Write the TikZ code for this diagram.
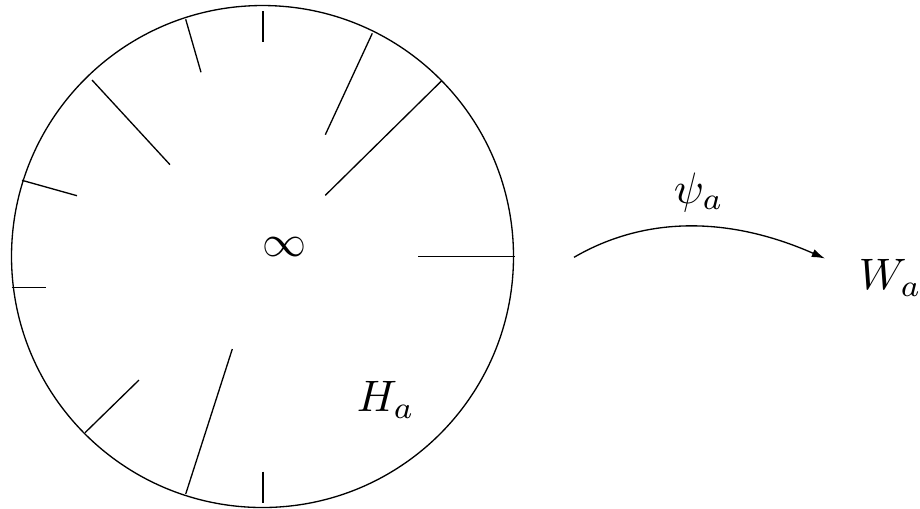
\documentclass[tikz,border=0pt]{standalone}
\usetikzlibrary{arrows.meta}
\tikzset{
  slit/.style={line width=0.3pt},
  lbl/.style={inner sep=0pt, font=\normalsize},
  maparrow/.style={line width=0.3pt, -{Latex[length=3pt,width=1.9pt]}}
}
\begin{document}
\begin{tikzpicture}[x=0.227pt,y=-0.227pt]
\useasboundingbox (0,0) rectangle (920,508);
\node[draw, circle, line width=0.3pt, minimum size=113.95pt, inner sep=0pt] (disk) at (262.5,256.5) {};
% slits
\draw[slit] (263,11) -- (263,42);
\draw[slit] (185.7,19.3) -- (201,72.3);
\draw[slit] (372.3,33.3) -- (325.3,134.7);
\draw[slit] (441.7,80.7) -- (325.3,195.3);
\draw[slit] (92,80) -- (170,164.7);
\draw[slit] (22,180.3) -- (77,195.7);
\draw[slit] (514.5,256.7) -- (418.3,256.7);
\draw[slit] (11.5,287.7) -- (46,287.7);
\draw[slit] (85,432.7) -- (139,380);
\draw[slit] (185.7,494) -- (232.3,349);
\draw[slit] (263,471.7) -- (263,502.7);
% labels
\node[lbl] (inf) at (285,247) {$\infty$};
\node[lbl, anchor=base west] (H) at (356,411.5) {$H_a$};
\node[lbl, anchor=base west] (psi) at (673,203) {$\psi_a$};
\node[lbl, anchor=base west] (W) at (858,289.5) {$W_a$};
% map arrow
\coordinate (s) at (574,257.3);
\coordinate (e) at (825,258.5);
\draw[maparrow] (s) .. controls (645.3,215.8) and (729,216.2) .. (e);
\end{tikzpicture}
\end{document}
